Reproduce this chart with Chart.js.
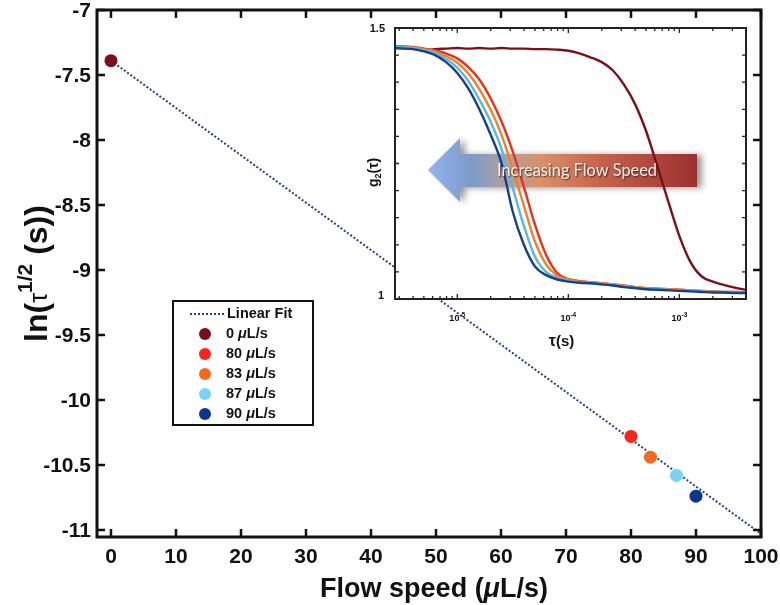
<!DOCTYPE html>
<html>
<head>
<meta charset="utf-8">
<script src="https://cdn.jsdelivr.net/npm/chart.js@4.4.1/dist/chart.umd.min.js"></script>
<style>
  html, body { margin: 0; padding: 0; background: #fff; }
  #wrap { position: relative; width: 780px; height: 605px; }
  #main { position: absolute; left: 0; top: 0; width: 780px; height: 605px; }
  #inset { position: absolute; left: 340px; top: 0; width: 420px; height: 355px; }
</style>
</head>
<body>
<div id="wrap">
  <canvas id="main" width="780" height="605"></canvas>
  <canvas id="inset" width="420" height="355"></canvas>
</div>
<script>
// main plot: ln(tau^1/2) vs flow speed
const flowSpeeds = [0, 80, 83, 87, 90];
const lnTauHalf = [-7.39, -10.28, -10.44, -10.58, -10.74];
const speedLabels = ['0 μL/s', '80 μL/s', '83 μL/s', '87 μL/s', '90 μL/s'];
const pointColors = ['#7a0f16', '#f5261b', '#f36a1e', '#78d2f6', '#0a3787'];
const fitX = [0, 100];
const fitY = [-7.39, -11.03];
const xTicks = [0, 10, 20, 30, 40, 50, 60, 70, 80, 90, 100];
const yTicks = [-7, -7.5, -8, -8.5, -9, -9.5, -10, -10.5, -11];

// inset: g2(tau) curves
const tau = [2.75e-6, 3.98e-6, 5.01e-6, 6.31e-6, 7.94e-6, 1.0e-5, 1.26e-5, 1.58e-5,
  2.0e-5, 2.51e-5, 3.16e-5, 3.98e-5, 5.01e-5, 6.31e-5, 7.94e-5, 1.0e-4, 1.26e-4,
  1.58e-4, 2.0e-4, 2.51e-4, 3.16e-4, 3.98e-4, 5.01e-4, 6.31e-4, 7.94e-4, 1.0e-3,
  1.26e-3, 1.58e-3, 2.0e-3, 2.51e-3, 3.16e-3, 3.98e-3];
const g2_0 = [1.463, 1.462, 1.458, 1.461, 1.462, 1.463, 1.462, 1.463, 1.462, 1.463, 1.462,
  1.462, 1.461, 1.461, 1.460, 1.458, 1.453, 1.446, 1.437, 1.422, 1.396, 1.360, 1.310,
  1.246, 1.180, 1.116, 1.068, 1.042, 1.032, 1.026, 1.021, 1.017];
const g2_80 = [1.467, 1.465, 1.462, 1.459, 1.453, 1.444, 1.428, 1.405, 1.370, 1.327, 1.272,
  1.207, 1.137, 1.081, 1.048, 1.037, 1.033, 1.031, 1.029, 1.027, 1.025, 1.022, 1.020,
  1.019, 1.018, 1.017, 1.016, 1.015, 1.014, 1.013, 1.013, 1.012];
const g2_83 = [1.466, 1.464, 1.461, 1.457, 1.448, 1.436, 1.416, 1.387, 1.349, 1.302, 1.240,
  1.172, 1.106, 1.064, 1.043, 1.036, 1.032, 1.031, 1.029, 1.027, 1.024, 1.022, 1.020,
  1.019, 1.018, 1.017, 1.016, 1.015, 1.014, 1.013, 1.013, 1.012];
const g2_87 = [1.465, 1.463, 1.459, 1.454, 1.443, 1.427, 1.402, 1.368, 1.327, 1.276, 1.205,
  1.135, 1.078, 1.050, 1.039, 1.034, 1.031, 1.030, 1.028, 1.026, 1.023, 1.021, 1.019,
  1.018, 1.017, 1.016, 1.015, 1.014, 1.013, 1.013, 1.012, 1.012];
const g2_90 = [1.463, 1.461, 1.457, 1.450, 1.437, 1.417, 1.388, 1.350, 1.303, 1.250, 1.161,
  1.100, 1.060, 1.044, 1.036, 1.032, 1.030, 1.029, 1.027, 1.025, 1.022, 1.020, 1.018,
  1.017, 1.016, 1.015, 1.014, 1.013, 1.012, 1.012, 1.011, 1.011];
const curveColors = ['#7d0f1a', '#e53219', '#f47f25', '#5ab8e0', '#163f8c'];
const insetYTicks = [1, 1.05, 1.1, 1.15, 1.2, 1.25, 1.3, 1.35, 1.4, 1.45, 1.5];
const insetXLabels = [1e-5, 1e-4, 1e-3];

const SANS = '"Liberation Sans", Arial, sans-serif';

function drawRich(ctx, parts, x, y) {
    let cx = x;
    parts.forEach(p => {
        ctx.font = p.font;
        ctx.fillText(p.text, cx, y + (p.dy || 0));
        cx += ctx.measureText(p.text).width;
    });
}
function richWidth(ctx, parts) {
    let w = 0;
    parts.forEach(p => { ctx.font = p.font; w += ctx.measureText(p.text).width; });
    return w;
}
// split "80 μL/s" so the mu can be italic
function muParts(label, size) {
    const i = label.indexOf('μ');
    return [
        { text: label.slice(0, i), font: `bold ${size}px ${SANS}` },
        { text: 'μ', font: `italic bold ${size}px ${SANS}` },
        { text: label.slice(i + 1), font: `bold ${size}px ${SANS}` },
    ];
}

const mainDecor = {
    id: 'mainDecor',
    afterDraw(chart) {
        const { ctx, chartArea: a, scales: { x, y } } = chart;
        ctx.save();
        ctx.strokeStyle = '#111';
        ctx.lineWidth = 2.5;
        ctx.beginPath();
        xTicks.forEach(v => {
            const px = x.getPixelForValue(v);
            ctx.moveTo(px, a.bottom); ctx.lineTo(px, a.bottom - 8);
            ctx.moveTo(px, a.top); ctx.lineTo(px, a.top + 8);
        });
        yTicks.forEach(v => {
            const py = y.getPixelForValue(v);
            ctx.moveTo(a.left, py); ctx.lineTo(a.left + 8, py);
            ctx.moveTo(a.right, py); ctx.lineTo(a.right - 8, py);
        });
        ctx.stroke();
        ctx.lineWidth = 3;
        ctx.strokeRect(a.left, a.top, a.right - a.left, a.bottom - a.top);

        // tick labels
        ctx.fillStyle = '#111';
        ctx.font = `bold 21px ${SANS}`;
        ctx.textAlign = 'center';
        ctx.textBaseline = 'middle';
        xTicks.forEach(v => ctx.fillText(String(v), x.getPixelForValue(v), a.bottom + 20));
        ctx.textAlign = 'right';
        yTicks.forEach(v => ctx.fillText(String(v), a.left - 6, y.getPixelForValue(v) + 1));

        // axis titles
        ctx.textAlign = 'left';
        ctx.textBaseline = 'alphabetic';
        const xt = muParts('Flow speed (μL/s)', 27);
        drawRich(ctx, xt, (a.left + a.right) / 2 + 5 - richWidth(ctx, xt) / 2, 597);

        const yt = [
            { text: 'ln(', font: `bold 32px ${SANS}` },
            { text: 'τ', font: `25px ${SANS}` },
            { text: '1/2', font: `bold 21px ${SANS}`, dy: -15 },
            { text: ' (s))', font: `bold 32px ${SANS}` },
        ];
        ctx.save();
        ctx.translate(47, (a.top + a.bottom) / 2);
        ctx.rotate(-Math.PI / 2);
        drawRich(ctx, yt, -richWidth(ctx, yt) / 2, 0);
        ctx.restore();

        // legend box
        const lx = 173, ly = 301, lw = 140, lh = 124;
        ctx.fillStyle = '#fff';
        ctx.fillRect(lx, ly, lw, lh);
        ctx.lineWidth = 2;
        ctx.strokeStyle = '#111';
        ctx.strokeRect(lx, ly, lw, lh);
        const fit = chart.data.datasets[5];
        ctx.save();
        ctx.strokeStyle = fit.borderColor;
        ctx.lineWidth = fit.borderWidth;
        ctx.setLineDash(fit.borderDash);
        ctx.beginPath();
        ctx.moveTo(190, 314); ctx.lineTo(224, 314);
        ctx.stroke();
        ctx.restore();
        ctx.fillStyle = '#111';
        ctx.textBaseline = 'middle';
        ctx.font = `bold 14.5px ${SANS}`;
        ctx.fillText(fit.label, 227, 314);
        chart.data.datasets.slice(0, 5).forEach((ds, i) => {
            const ry = 334 + i * 20;
            ctx.fillStyle = ds.backgroundColor;
            ctx.beginPath();
            ctx.arc(205, ry, 6, 0, Math.PI * 2);
            ctx.fill();
            ctx.fillStyle = '#111';
            drawRich(ctx, muParts(ds.label, 14.5), 226, ry);
        });
        ctx.restore();
    }
};

const mainDatasets = flowSpeeds.map((s, i) => ({
    label: speedLabels[i],
    data: [{ x: s, y: lnTauHalf[i] }],
    backgroundColor: pointColors[i],
    borderWidth: 0,
    pointRadius: 6.5,
    order: 0,
}));
mainDatasets.push({
    label: 'Linear Fit',
    data: fitX.map((v, i) => ({ x: v, y: fitY[i] })),
    showLine: true,
    borderColor: '#27407a',
    borderWidth: 2,
    borderDash: [2, 2],
    pointRadius: 0,
    order: 1,
});

const hiddenAxis = {
    ticks: { display: false },
    grid: { display: false, drawTicks: false },
    border: { display: false },
    title: { display: false },
};

new Chart(document.getElementById('main'), {
    type: 'scatter',
    data: { datasets: mainDatasets },
    options: {
        responsive: false,
        animation: false,
        devicePixelRatio: 1,
        layout: { padding: { left: 97, right: 19, top: 10, bottom: 68 } },
        plugins: { legend: { display: false }, tooltip: { enabled: false } },
        scales: {
            x: { ...hiddenAxis, type: 'linear', min: -2.15, max: 100 },
            y: { ...hiddenAxis, type: 'linear', min: -11.054, max: -7 },
        },
    },
    plugins: [mainDecor],
});

// inset chart
const insetDecor = {
    id: 'insetDecor',
    beforeDraw(chart) {
        const { ctx, chartArea: a } = chart;
        ctx.save();
        ctx.fillStyle = '#fff';
        ctx.fillRect(a.left, a.top, a.right - a.left, a.bottom - a.top);
        ctx.restore();
    },
    beforeDatasetsDraw(chart) {
        const { ctx } = chart;
        ctx.save();
        const g = ctx.createLinearGradient(88, 0, 357, 0);
        g.addColorStop(0, '#93b4ee');
        g.addColorStop(0.16, '#7c9bc9');
        g.addColorStop(0.3, '#b3a09c');
        g.addColorStop(0.42, '#d99068');
        g.addColorStop(0.65, '#c4624b');
        g.addColorStop(1, '#9c3030');
        ctx.shadowColor = 'rgba(0,0,0,0.4)';
        ctx.shadowBlur = 6;
        ctx.shadowOffsetX = 5;
        ctx.shadowOffsetY = 1;
        ctx.fillStyle = g;
        ctx.beginPath();
        ctx.moveTo(88, 170);
        ctx.lineTo(120, 138);
        ctx.lineTo(120, 154);
        ctx.lineTo(357, 154);
        ctx.lineTo(357, 187);
        ctx.lineTo(120, 187);
        ctx.lineTo(120, 202);
        ctx.closePath();
        ctx.fill();
        ctx.restore();
    },
    afterDraw(chart) {
        const { ctx, chartArea: a, scales: { x, y } } = chart;
        ctx.save();
        // arrow text
        const txt = 'Increasing Flow Speed';
        ctx.font = `16px Lato, "Open Sans", sans-serif`;
        const size = 16 * 160 / ctx.measureText(txt).width;
        ctx.font = `${size}px Lato, "Open Sans", sans-serif`;
        ctx.textAlign = 'center';
        ctx.textBaseline = 'middle';
        ctx.shadowColor = 'rgba(50,25,20,0.85)';
        ctx.shadowBlur = 1.5;
        ctx.shadowOffsetX = 1;
        ctx.shadowOffsetY = 1;
        ctx.fillStyle = '#f6f1ea';
        ctx.fillText(txt, 237, 171);
        ctx.restore();

        ctx.save();
        ctx.strokeStyle = '#222';
        ctx.lineWidth = 1.3;
        ctx.beginPath();
        insetYTicks.forEach(v => {
            const py = y.getPixelForValue(v);
            ctx.moveTo(a.left, py); ctx.lineTo(a.left + 4, py);
            ctx.moveTo(a.right, py); ctx.lineTo(a.right - 4, py);
        });
        x.ticks.forEach(t => {
            const px = x.getPixelForValue(t.value);
            const len = insetXLabels.includes(t.value) ? 5 : 3;
            ctx.moveTo(px, a.bottom); ctx.lineTo(px, a.bottom - len);
            ctx.moveTo(px, a.top); ctx.lineTo(px, a.top + len);
        });
        ctx.stroke();
        ctx.lineWidth = 2;
        ctx.strokeRect(a.left, a.top, a.right - a.left, a.bottom - a.top);

        ctx.fillStyle = '#111';
        ctx.font = `bold 11px ${SANS}`;
        ctx.textAlign = 'right';
        ctx.textBaseline = 'middle';
        ctx.fillText('1.5', a.left - 10, y.getPixelForValue(1.5) + 1);
        ctx.fillText('1', a.left - 11, y.getPixelForValue(1) - 3);

        ctx.textAlign = 'left';
        ctx.textBaseline = 'alphabetic';
        insetXLabels.forEach(v => {
            const parts = [
                { text: '10', font: `bold 9px ${SANS}` },
                { text: String(Math.round(Math.log10(v))), font: `bold 6.5px ${SANS}`, dy: -4 },
            ];
            drawRich(ctx, parts, x.getPixelForValue(v) - richWidth(ctx, parts) / 2, a.bottom + 22);
        });

        const xt = [
            { text: 'τ', font: `bold 16px ${SANS}` },
            { text: '(s)', font: `bold 15px ${SANS}` },
        ];
        drawRich(ctx, xt, (a.left + a.right) / 2 - 9 - richWidth(ctx, xt) / 2, a.bottom + 47);

        const yt = [
            { text: 'g', font: `bold 14px ${SANS}` },
            { text: '2', font: `bold 9px ${SANS}`, dy: 3 },
            { text: '(τ)', font: `bold 14px ${SANS}` },
        ];
        ctx.save();
        ctx.translate(a.left - 17, (a.top + a.bottom) / 2 + 9);
        ctx.rotate(-Math.PI / 2);
        drawRich(ctx, yt, -richWidth(ctx, yt) / 2, 0);
        ctx.restore();
        ctx.restore();
    }
};

const curves = [g2_90, g2_87, g2_83, g2_80, g2_0];
const curveIdx = [4, 3, 2, 1, 0];
new Chart(document.getElementById('inset'), {
    type: 'line',
    data: {
        datasets: curves.map((c, k) => ({
            label: speedLabels[curveIdx[k]],
            data: tau.map((t, i) => ({ x: t, y: c[i] })),
            borderColor: curveColors[curveIdx[k]],
            borderWidth: 2.4,
            pointRadius: 0,
            cubicInterpolationMode: 'monotone',
        })),
    },
    options: {
        responsive: false,
        animation: false,
        devicePixelRatio: 1,
        layout: { padding: { left: 55, right: 14, top: 28, bottom: 56 } },
        plugins: { legend: { display: false }, tooltip: { enabled: false } },
        scales: {
            x: {
                ...hiddenAxis,
                type: 'logarithmic',
                min: tau[0],
                max: tau[tau.length - 1],
                afterBuildTicks: s => {
                    const ticks = [];
                    for (let e = -6; e <= -3; e++) {
                        for (let m = 1; m <= 9; m++) {
                            const v = Number((m * Math.pow(10, e)).toPrecision(3));
                            if (v >= s.min && v <= s.max) ticks.push({ value: v });
                        }
                    }
                    s.ticks = ticks;
                },
            },
            y: { ...hiddenAxis, type: 'linear', min: 1, max: 1.5 },
        },
    },
    plugins: [insetDecor],
});
</script>
</body>
</html>
